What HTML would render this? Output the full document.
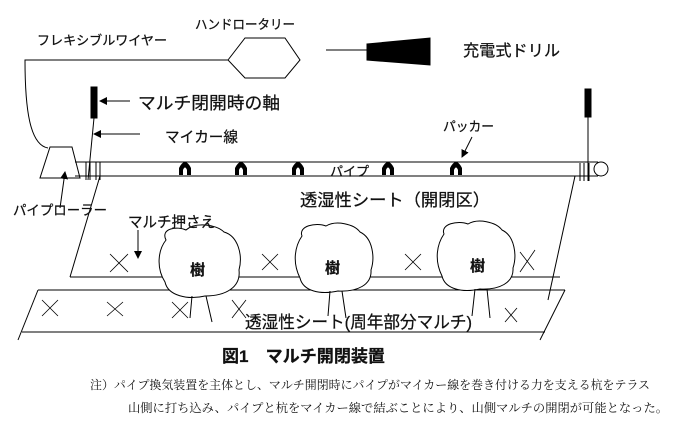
<!DOCTYPE html>
<html><head><meta charset="utf-8"><style>
html,body{margin:0;padding:0;background:#fff}
svg{display:block}
text{font-family:"Liberation Sans","Noto Sans CJK JP",sans-serif;fill:#111;stroke:#111;stroke-width:0.25}
.s{font-family:"Liberation Serif","Noto Serif CJK SC",serif;stroke-width:0}
</style></head><body>
<svg width="688" height="429" viewBox="0 0 688 429" xmlns="http://www.w3.org/2000/svg">
<defs><marker id="a" markerWidth="8" markerHeight="8" refX="7" refY="4" orient="auto" markerUnits="userSpaceOnUse"><path d="M0,0 L8,4 L0,8 z" fill="#000"/></marker></defs>
<g stroke="#000" fill="none" stroke-width="1">
<path d="M228,60 L25,60 C25,110 30,145 48,148"/>
<polygon points="228,60 245,38 285,38 300,60 285,78 245,78" fill="#fff"/>
<line x1="326" y1="50" x2="368" y2="50"/>
<polygon points="367,44 430,38 430,65 367,60" fill="#000"/>
<polygon points="50,147 72,147 80,178 40,178" fill="#fff"/>
<line x1="60" y1="208" x2="65" y2="172" marker-end="url(#a)"/>
<line x1="75" y1="162" x2="598" y2="162"/>
<line x1="75" y1="176" x2="598" y2="176"/>
<circle cx="601" cy="169" r="7" fill="#fff"/>
<line x1="86" y1="162" x2="86" y2="180"/><line x1="90" y1="162" x2="90" y2="180"/><line x1="96" y1="162" x2="96" y2="180"/><line x1="100" y1="162" x2="100" y2="180"/>
<line x1="580" y1="163" x2="580" y2="181"/><line x1="584" y1="163" x2="584" y2="181"/><line x1="589" y1="163" x2="589" y2="181"/>
<rect x="91" y="87" width="6" height="31" fill="#000"/>
<line x1="94" y1="118" x2="88" y2="180"/>
<rect x="585" y="89" width="6" height="28" fill="#000"/>
<line x1="588" y1="117" x2="588" y2="181"/>
<line x1="130" y1="101" x2="100" y2="101" marker-end="url(#a)"/>
<line x1="140" y1="134" x2="94" y2="134" marker-end="url(#a)"/>
<line x1="472" y1="137" x2="462" y2="157" marker-end="url(#a)"/>
<line x1="100" y1="176" x2="70" y2="277"/>
<line x1="70" y1="277" x2="560" y2="277"/>
<line x1="575" y1="176" x2="548" y2="300"/>
<line x1="138" y1="230" x2="138" y2="258" marker-end="url(#a)"/>
<line x1="38" y1="290" x2="565" y2="290"/>
<line x1="22" y1="332" x2="545" y2="332"/>
<line x1="38" y1="290" x2="18" y2="340"/>
<line x1="565" y1="290" x2="540" y2="340"/>
<g stroke-width="0.8">
<path d="M110,254 l18,18 M128,254 l-18,18"/><path d="M262,254 l16,16 M278,254 l-16,16"/><path d="M405,254 l16,16 M421,254 l-16,16"/><path d="M520,252 l14,18 M535,250 l-15,22"/>
<path d="M42,300 l16,16 M58,300 l-16,16"/><path d="M107,302 l16,14 M123,302 l-16,14"/><path d="M172,302 l16,16 M188,302 l-16,16"/><path d="M232,300 l14,18 M246,300 l-14,18"/><path d="M505,308 l12,14 M517,308 l-12,14"/>
</g>
<path d="M166,240 C160,228 178,226 186,230 C195,222 216,224 224,232 C238,236 243,255 239,270 C241,287 226,296 205,296 C188,300 168,296 165,282 C156,268 158,250 166,240 Z" fill="#fff"/>
<path d="M192,296 L190,318 M206,296 L212,322"/>
<path d="M302,236 C298,226 316,222 326,226 C336,220 354,224 360,232 C373,238 375,258 371,270 C372,285 357,292 338,291 C320,295 303,291 300,278 C292,262 295,246 302,236 Z" fill="#fff"/>
<path d="M330,291 L328,316 M342,291 L346,318"/>
<path d="M444,234 C440,224 458,220 468,224 C478,218 496,222 502,230 C515,236 517,256 513,268 C514,283 499,290 480,289 C462,293 445,289 442,276 C434,260 437,244 444,234 Z" fill="#fff"/>
<path d="M475,289 L472,316 M487,289 L490,318"/>
</g>
<g fill="#000">
<path d="M179,175 L179,168 Q185,156 191,168 L191,175 L187,175 L187,170 Q185,165 183,170 L183,175 Z"/>
<path d="M235,175 L235,168 Q241,156 247,168 L247,175 L243,175 L243,170 Q241,165 239,170 L239,175 Z"/>
<path d="M292,175 L292,168 Q298,156 304,168 L304,175 L300,175 L300,170 Q298,165 296,170 L296,175 Z"/>
<path d="M382,175 L382,168 Q388,156 394,168 L394,175 L390,175 L390,170 Q388,165 386,170 L386,175 Z"/>
<path d="M450,175 L450,168 Q456,156 462,168 L462,175 L458,175 L458,170 Q456,165 454,170 L454,175 Z"/>
</g>
<text x="37" y="45" font-size="13" textLength="130" lengthAdjust="spacingAndGlyphs">フレキシブルワイヤー</text>
<text x="195" y="29" font-size="13" textLength="100" lengthAdjust="spacingAndGlyphs">ハンドロータリー</text>
<text x="463" y="56" font-size="16" textLength="97" lengthAdjust="spacingAndGlyphs">充電式ドリル</text>
<text x="138" y="109" font-size="17" textLength="142" lengthAdjust="spacingAndGlyphs">マルチ閉開時の軸</text>
<text x="165" y="142" font-size="15" textLength="73" lengthAdjust="spacingAndGlyphs">マイカー線</text>
<text x="443" y="131" font-size="13" textLength="51" lengthAdjust="spacingAndGlyphs">パッカー</text>
<text x="330" y="176" font-size="13">パイプ</text>
<text x="13" y="215" font-size="13.5" textLength="94" lengthAdjust="spacingAndGlyphs">パイプローラー</text>
<text x="300" y="206" font-size="17" textLength="190" lengthAdjust="spacingAndGlyphs">透湿性シート（開閉区）</text>
<text x="128" y="227" font-size="15" textLength="87" lengthAdjust="spacingAndGlyphs">マルチ押さえ</text>
<text x="190" y="275" font-size="15" font-weight="bold">樹</text>
<text x="325" y="273" font-size="15" font-weight="bold">樹</text>
<text x="470" y="271" font-size="15" font-weight="bold">樹</text>
<text x="245" y="328" font-size="17" textLength="227" lengthAdjust="spacingAndGlyphs">透湿性シート(周年部分マルチ)</text>
<text x="222" y="362" font-size="17" font-weight="bold" textLength="163" lengthAdjust="spacingAndGlyphs">図1　マルチ開閉装置</text>
<text class="s" x="90" y="389" font-size="12" textLength="560" lengthAdjust="spacingAndGlyphs">注）パイプ換気装置を主体とし、マルチ開閉時にパイプがマイカー線を巻き付ける力を支える杭をテラス</text>
<text class="s" x="128" y="412" font-size="12" textLength="540" lengthAdjust="spacingAndGlyphs">山側に打ち込み、パイプと杭をマイカー線で結ぶことにより、山側マルチの開閉が可能となった。</text>
</svg>
</body></html>
